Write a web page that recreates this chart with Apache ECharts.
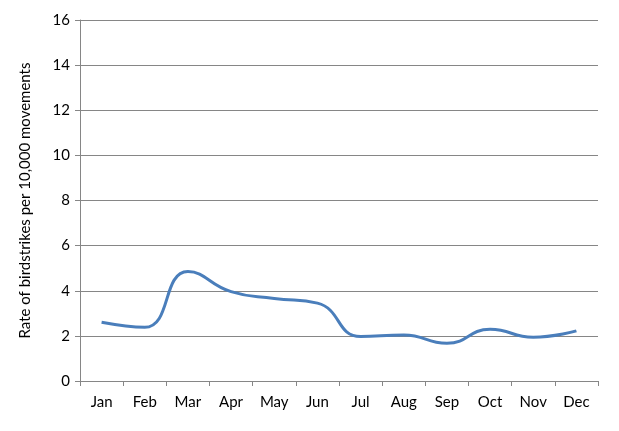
<!DOCTYPE html>
<html><head><meta charset="utf-8">
<script src="https://cdn.jsdelivr.net/npm/echarts@6/dist/echarts.min.js"></script>
<style>html,body{margin:0;padding:0;background:#fff}#c{width:619px;height:431px}</style>
</head><body><div id="c"></div>
<script>
const months = ['Jan','Feb','Mar','Apr','May','Jun','Jul','Aug','Sep','Oct','Nov','Dec'];
const rates = [2.6, 2.38, 4.85, 3.96, 3.66, 3.45, 1.97, 2.04, 1.67, 2.29, 1.94, 2.22];
const yTicks = {min: 0, max: 16, interval: 2};
const yName = 'Rate of birdstrikes per 10,000 movements';
const font = 'Lato, "Open Sans", sans-serif';
const chart = echarts.init(document.getElementById('c'));
chart.setOption({
  animation: false,
  grid: {left: 80, right: 21, top: 20, bottom: 50, containLabel: false},
  xAxis: {
    type: 'category', data: months, boundaryGap: true,
    axisLine: {lineStyle: {color: '#868686', width: 1}},
    axisTick: {show: true, alignWithLabel: false, length: 5, lineStyle: {color: '#868686'}},
    axisLabel: {color: '#000', fontSize: 15, fontFamily: font, margin: 14}
  },
  yAxis: {
    type: 'value', min: yTicks.min, max: yTicks.max, interval: yTicks.interval,
    name: yName, nameLocation: 'middle', nameGap: 47, nameRotate: 90,
    nameTextStyle: {color: '#000', fontSize: 15, fontFamily: font},
    axisLine: {show: true, lineStyle: {color: '#868686', width: 1}},
    axisTick: {show: true, length: 5, lineStyle: {color: '#868686'}},
    axisLabel: {color: '#000', fontSize: 15, fontFamily: font, margin: 10},
    splitLine: {lineStyle: {color: '#868686', width: 1}}
  },
  series: [{
    type: 'line', data: rates, smooth: 0.5, symbol: 'none',
    lineStyle: {color: '#4A7EBB', width: 3}
  }]
});
</script></body></html>
